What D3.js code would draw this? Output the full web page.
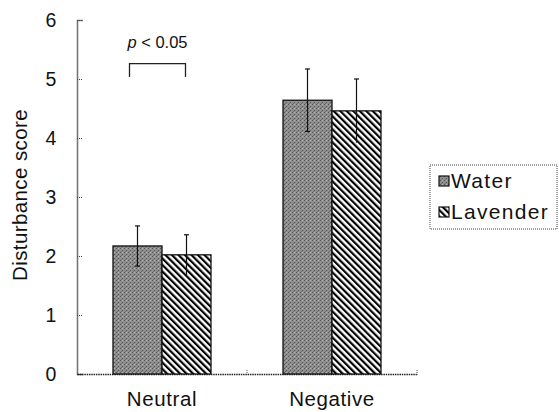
<!DOCTYPE html>
<html><head><meta charset="utf-8">
<script src="https://cdn.jsdelivr.net/npm/d3@7"></script>
<style>body{margin:0;background:#fff}text{font-family:"Liberation Sans",Arial,sans-serif;fill:#111}</style>
</head><body><svg id="c" width="559" height="412"></svg>
<script>
const categories = ["Neutral", "Negative"];
const seriesNames = ["Water", "Lavender"];
const waterMeans = [2.17, 4.64];
const waterErr = [0.34, 0.53];
const lavenderMeans = [2.02, 4.46];
const lavenderErr = [0.34, 0.54];
const yTicks = [0, 1, 2, 3, 4, 5, 6];
const sigLabel = "p < 0.05";

const svg = d3.select("#c");
const defs = svg.append("defs");
const st = defs.append("pattern").attr("id","stip").attr("patternUnits","userSpaceOnUse").attr("width",4).attr("height",4);
st.append("rect").attr("width",4).attr("height",4).attr("fill","#8e8e8e");
st.append("rect").attr("x",0).attr("y",0).attr("width",1).attr("height",1).attr("fill","#555");
st.append("rect").attr("x",2).attr("y",2).attr("width",1).attr("height",1).attr("fill","#555");
st.append("rect").attr("x",2).attr("y",0).attr("width",1).attr("height",1).attr("fill","#b4b4b4");
st.append("rect").attr("x",1).attr("y",3).attr("width",1).attr("height",1).attr("fill","#6e6e6e");
const ht = defs.append("pattern").attr("id","hatch").attr("patternUnits","userSpaceOnUse").attr("width",4.6).attr("height",4.6).attr("patternTransform","rotate(-45)");
ht.append("rect").attr("width",4.6).attr("height",4.6).attr("fill","#fff");
ht.append("line").attr("x1",0).attr("y1",0).attr("x2",0).attr("y2",4.6).attr("stroke","#000").attr("stroke-width",4.4);

const x0 = 77, x1 = 417;
const y = d3.scaleLinear().domain([0,6]).range([374,20]);
const xc = d3.scaleBand().domain(categories).range([x0,x1]);
const xs = d3.scaleBand().domain(seriesNames).range([0,98]);
const off = (xc.bandwidth()-98)/2;

// axes
const yAxis = d3.axisRight(y).tickValues(yTicks).tickSize(6).tickFormat("");
const ga = svg.append("g").attr("transform",`translate(${x0},0)`).call(yAxis);
ga.select(".domain").attr("stroke","#777").attr("stroke-width",1.6);
ga.selectAll(".tick line").attr("stroke","#444").attr("stroke-dasharray","1,1");
svg.selectAll(".ylab").data(yTicks).join("text").attr("x",51).attr("y",d=>y(d)+7).attr("text-anchor","middle").attr("font-size",19.5).text(d=>d);

const xAxis = d3.axisBottom(xc).tickSize(0).tickFormat("");
const gx = svg.append("g").attr("transform",`translate(0,${y(0)})`).call(xAxis);
gx.select(".domain").attr("stroke","#222").attr("stroke-width",1.3).attr("stroke-dasharray","1.5,0.8");
[x0+xc.step(), x1].forEach(v=>svg.append("line").attr("x1",v).attr("x2",v).attr("y1",y(0)-4).attr("y2",y(0)+2).attr("stroke","#555").attr("stroke-dasharray","1,1"));
svg.selectAll(".xlab").data(categories).join("text").attr("x",d=>xc(d)+xc.bandwidth()/2).attr("y",406).attr("text-anchor","middle").attr("font-size",20.5).attr("letter-spacing",0.6).text(d=>d);

svg.append("text").attr("transform","translate(26.5,195) rotate(-90)").attr("text-anchor","middle").attr("font-size",20.5).attr("letter-spacing",0.4).text("Disturbance score");

// bars
const data = [];
categories.forEach((c,i)=>{
  data.push({c, s:"Water", v:waterMeans[i], e:waterErr[i], fill:"url(#stip)"});
  data.push({c, s:"Lavender", v:lavenderMeans[i], e:lavenderErr[i], fill:"url(#hatch)"});
});
const bx = d=>xc(d.c)+off+xs(d.s);
svg.selectAll(".bar").data(data).join("rect").attr("x",bx).attr("y",d=>y(d.v)).attr("width",xs.bandwidth()).attr("height",d=>y(0)-y(d.v)).attr("fill",d=>d.fill).attr("stroke","#111").attr("stroke-width",1.3);
// error bars
data.forEach(d=>{
  const cx = bx(d)+xs.bandwidth()/2;
  const g = svg.append("g").attr("stroke","#111").attr("stroke-width",1.2);
  g.append("line").attr("x1",cx).attr("x2",cx).attr("y1",y(d.v+d.e)).attr("y2",y(d.v-d.e));
  g.append("line").attr("x1",cx-2.5).attr("x2",cx+2.5).attr("y1",y(d.v+d.e)).attr("y2",y(d.v+d.e));
  if(d.s==="Water") g.append("line").attr("x1",cx-2.5).attr("x2",cx+2.5).attr("y1",y(d.v-d.e)).attr("y2",y(d.v-d.e));
});

// significance bracket
const bL = xc("Neutral")+off+xs("Water")+xs.bandwidth()/2-8, bR = xc("Neutral")+off+xs("Lavender")+xs.bandwidth()/2-1;
svg.append("path").attr("d",`M${bL},${y(5)-2}V${y(5.26)}H${bR}V${y(5)-2}`).attr("fill","none").attr("stroke","#222").attr("stroke-width",1.3);
const t = svg.append("text").attr("x",(bL+bR)/2).attr("y",48).attr("text-anchor","middle").attr("font-size",16.5);
t.append("tspan").attr("font-style","italic").text(sigLabel.split(" ")[0]);
t.append("tspan").text(" " + sigLabel.split(" ").slice(1).join(" "));

// legend
const lg = svg.append("g");
lg.append("rect").attr("x",430).attr("y",165).attr("width",127).attr("height",64).attr("fill","#fff").attr("stroke","#444").attr("stroke-dasharray","1,1");
seriesNames.forEach((s,i)=>{
  const yy = 176 + i*31;
  lg.append("rect").attr("x",439).attr("y",yy).attr("width",10).attr("height",10).attr("fill",i?"url(#hatch)":"url(#stip)").attr("stroke","#111").attr("stroke-width",1.2);
  lg.append("text").attr("x",451).attr("y",yy+12).attr("font-size",21).attr("letter-spacing",1.3).text(s);
});
</script></body></html>
